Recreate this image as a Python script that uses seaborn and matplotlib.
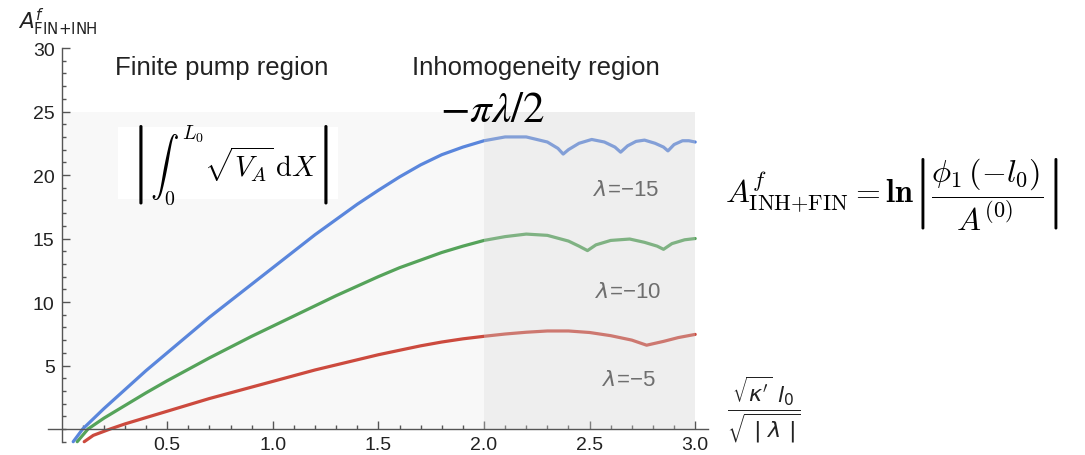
import numpy as np
import pandas as pd
import matplotlib
matplotlib.use("Agg")
import matplotlib.pyplot as plt
from matplotlib.patches import Rectangle
from matplotlib.ticker import FixedLocator, FormatStrFormatter
import seaborn as sns

# ---- curve data: A^f versus sqrt(kappa') l0 / sqrt(|lambda|) ----
x_l15 = [0.055, 0.10, 0.20, 0.30, 0.40, 0.50, 0.60, 0.70, 0.80, 0.90, 1.00,
         1.10, 1.20, 1.30, 1.40, 1.50, 1.60, 1.70, 1.80, 1.90, 2.00, 2.10,
         2.20, 2.30, 2.35, 2.375, 2.40, 2.45, 2.51, 2.57, 2.62, 2.647, 2.68,
         2.72, 2.76, 2.81, 2.85, 2.871, 2.90, 2.94, 2.97, 3.00]
y_l15 = [-1.0, 0.0, 1.6, 3.1, 4.6, 6.0, 7.4, 8.8, 10.1, 11.4, 12.7,
         14.0, 15.3, 16.5, 17.7, 18.8, 19.85, 20.8, 21.6, 22.2, 22.7, 23.0,
         23.0, 22.6, 22.1, 21.65, 22.0, 22.5, 22.8, 22.6, 22.2, 21.8, 22.3,
         22.65, 22.75, 22.5, 22.2, 21.9, 22.4, 22.7, 22.7, 22.6]

x_l10 = [0.074, 0.125, 0.20, 0.30, 0.40, 0.50, 0.60, 0.70, 0.80, 0.90, 1.00,
         1.10, 1.20, 1.30, 1.40, 1.50, 1.60, 1.70, 1.80, 1.90, 2.00, 2.10,
         2.20, 2.30, 2.40, 2.45, 2.49, 2.53, 2.60, 2.69, 2.76, 2.82, 2.85,
         2.89, 2.95, 3.00]
y_l10 = [-1.0, 0.0, 0.85, 1.85, 2.85, 3.8, 4.7, 5.6, 6.45, 7.3, 8.1,
         8.9, 9.7, 10.5, 11.25, 12.0, 12.7, 13.3, 13.9, 14.4, 14.85, 15.15,
         15.35, 15.25, 14.8, 14.4, 14.05, 14.5, 14.85, 14.96, 14.7, 14.4, 14.15,
         14.6, 14.9, 15.0]

x_l5 = [0.107, 0.15, 0.23, 0.30, 0.40, 0.50, 0.60, 0.70, 0.80, 0.90, 1.00,
        1.10, 1.20, 1.30, 1.40, 1.50, 1.60, 1.70, 1.80, 1.90, 2.00, 2.10,
        2.20, 2.30, 2.40, 2.50, 2.60, 2.70, 2.77, 2.85, 2.92, 3.00]
y_l5 = [-1.0, -0.5, 0.0, 0.4, 0.9, 1.4, 1.9, 2.4, 2.85, 3.3, 3.75,
        4.2, 4.65, 5.05, 5.45, 5.85, 6.2, 6.55, 6.85, 7.1, 7.3, 7.48,
        7.62, 7.72, 7.72, 7.6, 7.35, 7.0, 6.6, 6.9, 7.2, 7.45]

series_names = ["λ=−15", "λ=−10", "λ=−5"]
series_colors = ["#5a86dc", "#55a35a", "#cc4a3e"]

x_major = [0.5, 1.0, 1.5, 2.0, 2.5, 3.0]
y_major = [5, 10, 15, 20, 25, 30]

df = pd.concat([
    pd.DataFrame({"x": x_l15, "y": y_l15, "series": series_names[0]}),
    pd.DataFrame({"x": x_l10, "y": y_l10, "series": series_names[1]}),
    pd.DataFrame({"x": x_l5, "y": y_l5, "series": series_names[2]}),
], ignore_index=True)

sns.set_theme(style="white")
plt.rcParams["font.family"] = ["Liberation Sans", "DejaVu Sans"]

W, H = 1085, 456
fig = plt.figure(figsize=(W / 100, H / 100), dpi=100)
ax = fig.add_axes([0.0412, 0.0208, 0.6151, 0.880])
ax.set_facecolor("none")

# region shading
ax.add_patch(Rectangle((0, 0), 2.0, 25, facecolor="#f8f8f8", edgecolor="none", zorder=0))
ax.add_patch(Rectangle((2.0, 0), 1.0, 25, facecolor="#d0d0d0", edgecolor="none",
                       alpha=0.35, zorder=3))

sns.lineplot(data=df, x="x", y="y", hue="series", palette=series_colors,
             hue_order=series_names, sort=False, estimator=None, linewidth=2.3,
             legend=False, ax=ax, zorder=2)

ax.set_xlim(-0.08, 3.08)
ax.set_ylim(-1.3, 30.3)
ax.set_xlabel("")
ax.set_ylabel("")

# axes crossing at the origin
for s in ["top", "right"]:
    ax.spines[s].set_visible(False)
ax.spines["left"].set_position(("data", 0))
ax.spines["bottom"].set_position(("data", 0))
ax.spines["left"].set_bounds(-1, 30)
ax.spines["bottom"].set_bounds(-0.065, 3.06)
for s in ["left", "bottom"]:
    ax.spines[s].set_color("#555555")
    ax.spines[s].set_linewidth(1.0)
    ax.spines[s].set_zorder(4)

ax.xaxis.set_major_locator(FixedLocator(x_major))
ax.xaxis.set_minor_locator(FixedLocator(np.round(np.arange(0.1, 3.01, 0.1), 2)))
ax.xaxis.set_major_formatter(FormatStrFormatter("%.1f"))
ax.yaxis.set_major_locator(FixedLocator(y_major))
ax.yaxis.set_minor_locator(FixedLocator(np.arange(-1, 31, 1)))
ax.tick_params(which="both", direction="in", color="#555555", width=1.0,
               bottom=True, left=True, top=False, right=False)
ax.tick_params(which="major", length=5.5, labelsize=14, labelcolor="#222222")
ax.tick_params(which="minor", length=3)
ax.tick_params(axis="x", which="major", pad=5)
ax.tick_params(axis="y", which="major", pad=5)

# axis titles
fig.text(18 / W, 1 - 22 / H, r"$A^{f}_{\mathrm{FIN}{+}\mathrm{INH}}$", fontsize=15.5,
         math_fontfamily="dejavusans", va="center", ha="left", color="#222222")
fig.text(764 / W, 1 - 410 / H, r"$\dfrac{\sqrt{\kappa'}\ l_0}{\sqrt{\ |\ \lambda\ |}}$",
         fontsize=16, math_fontfamily="dejavusans", va="center", ha="center",
         color="#222222")

# region titles
fig.text(115 / W, 1 - 68 / H, "Finite pump region", fontsize=18.5, va="center",
         ha="left", color="#222222")
fig.text(412 / W, 1 - 68 / H, "Inhomogeneity region", fontsize=18.5, va="center",
         ha="left", color="#222222")
fig.text(440 / W, 1 - 111 / H, r"$-\pi\lambda/2$", fontsize=31, math_fontfamily="stix",
         va="center", ha="left", color="black", zorder=6)

# formulas
fig.patches.append(Rectangle((118 / W, 1 - 200 / H), 220 / W, 72 / H,
                             transform=fig.transFigure, facecolor="white",
                             edgecolor="none", zorder=5))
fig.text(229 / W, 1 - 165 / H, r"$\left|\int_0^{L_0}\sqrt{V_A}\,\mathrm{d}X\right|$",
         fontsize=20.5, math_fontfamily="cm", va="center", ha="center", color="black",
         zorder=6)
fig.text(725 / W, 1 - 195 / H,
         r"$A^{f}_{\mathrm{INH}{+}\mathrm{FIN}} = \mathbf{ln}\left|\dfrac{\phi_1\,(-l_0)}{A^{(0)}}\right|$",
         fontsize=23, math_fontfamily="cm", va="center", ha="left", color="black")

# curve labels
for name, (px, py) in zip(series_names, [(593, 191), (595, 293), (602, 380)]):
    fig.text(px / W, 1 - py / H, r"$\lambda$" + name[1:], fontsize=16,
             math_fontfamily="dejavusans", va="center", ha="left", color="#6e6e6e",
             zorder=6)

fig.savefig("out.png", dpi=100)
